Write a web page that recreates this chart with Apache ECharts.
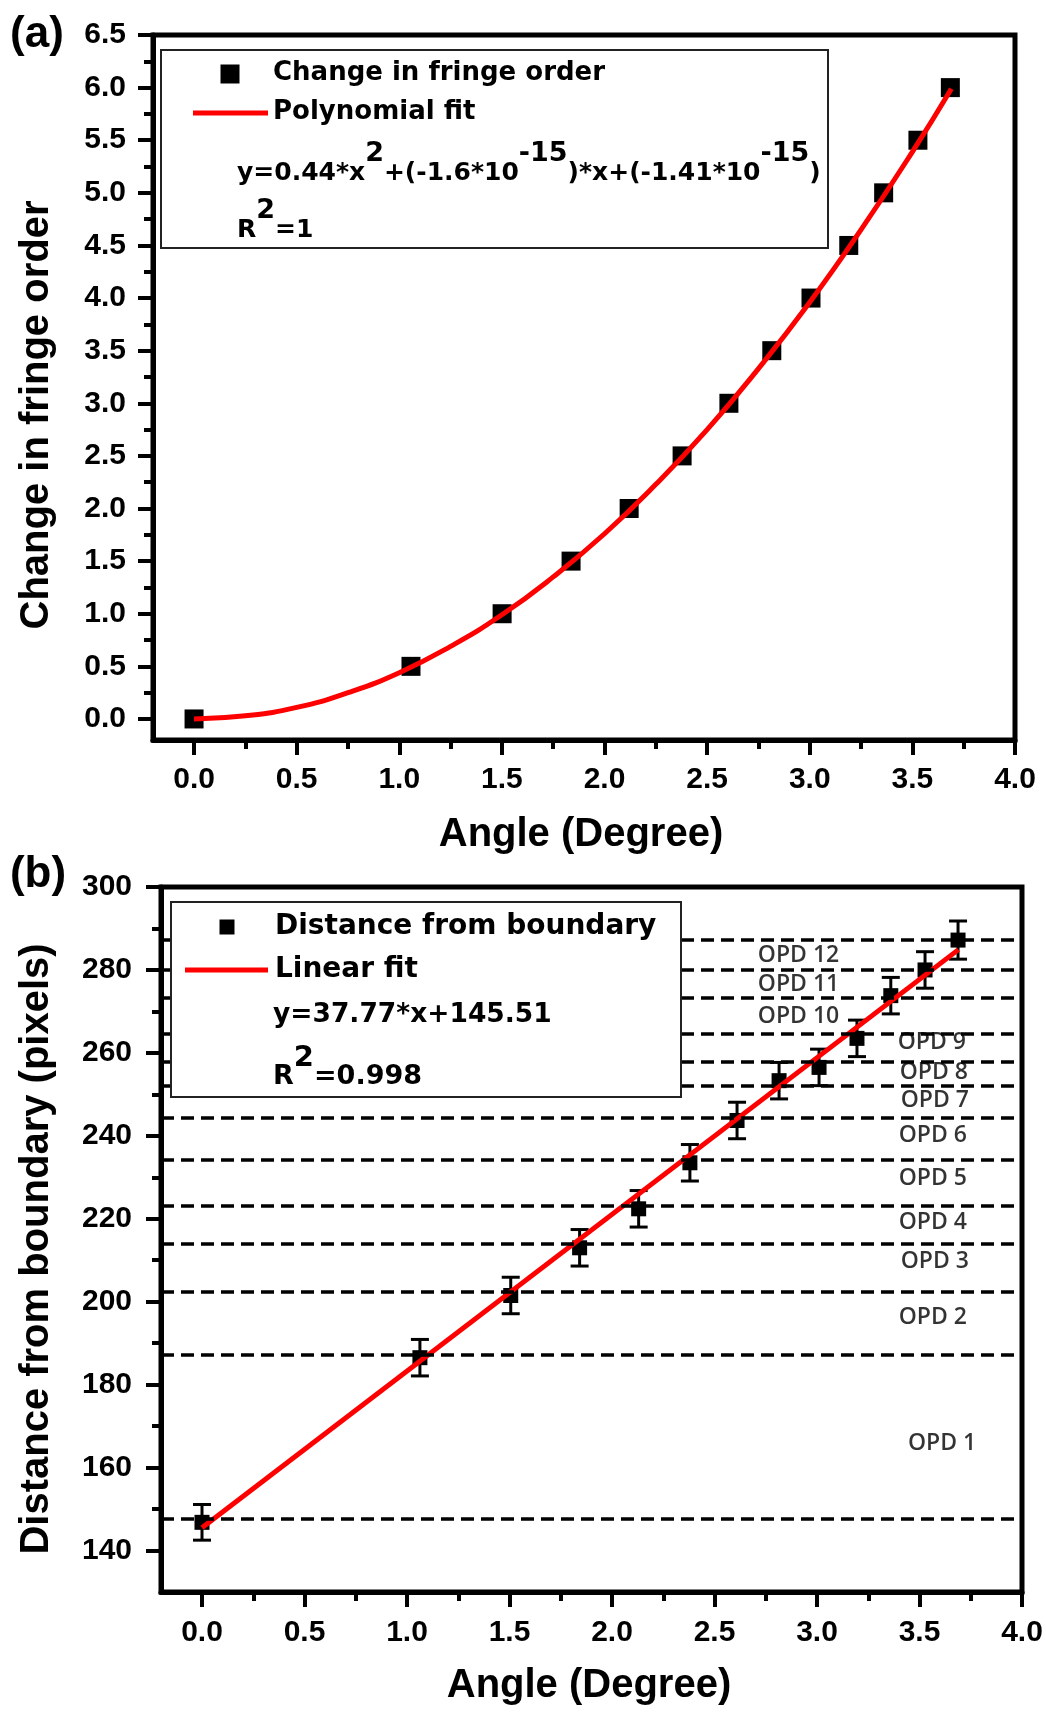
<!DOCTYPE html>
<html>
<head>
<meta charset="utf-8">
<script src="https://cdn.jsdelivr.net/npm/echarts@6/dist/echarts.min.js"></script>
<style>
  html, body { margin: 0; padding: 0; background: #fff; }
  #chart { width: 1046px; height: 1713px; }
</style>
</head>
<body>
<div id="chart"></div>
<script>
// (a) change in fringe order vs angle
const angleA = [0, 1.057, 1.501, 1.837, 2.12, 2.378, 2.606, 2.815, 3.006, 3.19, 3.36, 3.527, 3.685];
const fringeOrder = [0, 0.5, 1.0, 1.5, 2.0, 2.5, 3.0, 3.5, 4.0, 4.5, 5.0, 5.5, 6.0];
// polynomial fit curve
const polyFitX = [0, 0.25, 0.5, 0.75, 1.0, 1.25, 1.5, 1.75, 2.0, 2.25, 2.5, 2.75, 3.0, 3.25, 3.5, 3.69];
const polyFitY = [0, 0.03, 0.11, 0.25, 0.44, 0.69, 0.99, 1.35, 1.76, 2.23, 2.75, 3.33, 3.96, 4.65, 5.39, 5.99];

// (b) distance from boundary vs angle
const angleB = [0, 1.063, 1.506, 1.842, 2.13, 2.38, 2.61, 2.815, 3.01, 3.195, 3.36, 3.527, 3.688];
const distance = [146.8, 186.5, 201.5, 213.0, 222.4, 233.5, 243.7, 253.3, 256.5, 263.5, 273.8, 280.0, 287.2];
const distErr = [4.3, 4.4, 4.4, 4.4, 4.4, 4.4, 4.4, 4.4, 4.4, 4.4, 4.4, 4.4, 4.6];
const linFitX = [0, 3.69];
const linFitY = [145.5, 284.9];

// OPD boundaries (dashed) and their labels
const opdLevels = [287.2, 280.0, 273.2, 264.7, 257.9, 252.1, 244.3, 234.3, 223.2, 214.0, 202.5, 187.1, 147.6];
const opdNames = ['OPD 12', 'OPD 11', 'OPD 10', 'OPD 9', 'OPD 8', 'OPD 7', 'OPD 6', 'OPD 5', 'OPD 4', 'OPD 3', 'OPD 2', 'OPD 1'];
const opdLabelX = [2.91, 2.91, 2.91, 3.56, 3.57, 3.575, 3.565, 3.565, 3.565, 3.575, 3.565, 3.61];
const opdLabelY = [283.6, 276.6, 268.9, 262.4, 255.4, 248.6, 240.2, 229.8, 219.1, 209.6, 196.1, 165.9];

// ticks
const xTicks = [0, 0.5, 1.0, 1.5, 2.0, 2.5, 3.0, 3.5, 4.0];
const xMinor = [0.25, 0.75, 1.25, 1.75, 2.25, 2.75, 3.25, 3.75];
const yTicksA = [0, 0.5, 1.0, 1.5, 2.0, 2.5, 3.0, 3.5, 4.0, 4.5, 5.0, 5.5, 6.0, 6.5];
const yMinorA = [0.25, 0.75, 1.25, 1.75, 2.25, 2.75, 3.25, 3.75, 4.25, 4.75, 5.25, 5.75, 6.25];
const yTicksB = [140, 160, 180, 200, 220, 240, 260, 280, 300];
const yMinorB = [150, 170, 190, 210, 230, 250, 270, 290];

const zip = (a, b) => a.map((v, i) => [v, b[i]]);

const tickFont = { color: '#000', fontFamily: 'Liberation Sans', fontWeight: 'bold', fontSize: 30 };
const tickLine = { color: '#000', width: 4 };

function axisPair(kind, gridIndex, min, max, major, minor, margin, fmt) {
  const base = {
    type: 'value', gridIndex, min, max,
    position: kind === 'x' ? 'bottom' : 'left',
    offset: 0,
    splitLine: { show: false }
  };
  return [
    {
      ...base,
      axisLine: { show: true, onZero: false, lineStyle: { color: '#000', width: 5 } },
      axisTick: { show: true, inside: false, length: 15, customValues: major, lineStyle: tickLine },
      axisLabel: { show: true, customValues: major, margin, formatter: fmt, ...tickFont }
    },
    {
      ...base,
      axisLine: { show: false, onZero: false },
      axisTick: { show: true, inside: false, length: 9, customValues: minor, lineStyle: tickLine },
      axisLabel: { show: false }
    }
  ];
}

const f1 = (v) => v.toFixed(1);
const f0 = (v) => String(Math.round(v));

// text runs with superscripts, laid out by measuring
const mctx = document.createElement('canvas').getContext('2d');
function textRun(parts, x, yMid, supMid, size, supSize) {
  const out = [];
  let cx = x;
  for (const p of parts) {
    const fs = p.sup ? supSize : size;
    const font = `bold ${fs}px "DejaVu Sans"`;
    mctx.font = font;
    out.push(txt(p.t, cx, p.sup ? supMid : yMid, font, 'left'));
    cx += mctx.measureText(p.t).width;
  }
  return out;
}
function txt(text, x, y, font, align, rotation) {
  return {
    type: 'text', x, y, z: 60, rotation: rotation || 0,
    style: {
      text, font, fill: '#000',
      align: align || 'center', textAlign: align || 'center',
      verticalAlign: 'middle', textVerticalAlign: 'middle'
    }
  };
}
function box(x, y, w, h) {
  return { type: 'rect', z: 50, shape: { x, y, width: w, height: h }, style: { fill: '#fff', stroke: '#222', lineWidth: 2 } };
}
function square(cx, cy, s) {
  return { type: 'rect', z: 60, shape: { x: cx - s / 2, y: cy - s / 2, width: s, height: s }, style: { fill: '#000' } };
}
function redLine(x1, x2, y) {
  return { type: 'line', z: 60, shape: { x1, y1: y, x2, y2: y }, style: { stroke: '#ff0000', lineWidth: 5 } };
}

const titleFont = 'bold 40px "Liberation Sans"';
const legA = 'bold 26px "DejaVu Sans"';
const legB = 'bold 28px "DejaVu Sans"';

const graphics = [
  txt('(a)', 37, 35, 'bold 44px "Liberation Sans"'),
  txt('(b)', 38, 875, 'bold 44px "Liberation Sans"'),
  txt('Change in fringe order', 37, 415, titleFont, 'center', Math.PI / 2),
  txt('Distance from boundary (pixels)', 37, 1249, titleFont, 'center', Math.PI / 2),
  txt('Angle (Degree)', 581, 835, titleFont),
  txt('Angle (Degree)', 589, 1686, titleFont),

  box(161, 50, 667, 198),
  square(230, 74, 19),
  txt('Change in fringe order', 273, 73, legA, 'left'),
  redLine(193, 268, 113),
  txt('Polynomial fit', 273, 112, legA, 'left'),
  ...textRun([
    { t: 'y=0.44*x' }, { t: '2', sup: true }, { t: '+(-1.6*10' }, { t: '-15', sup: true },
    { t: ')*x+(-1.41*10' }, { t: '-15', sup: true }, { t: ')' }
  ], 237, 173, 154, 25, 27),
  ...textRun([{ t: 'R' }, { t: '2', sup: true }, { t: '=1' }], 237, 230, 211, 25, 27),

  box(171, 902, 510, 195),
  square(227, 927, 15),
  txt('Distance from boundary', 275, 927, legB, 'left'),
  redLine(185, 268, 970),
  txt('Linear fit', 275, 970, legB, 'left'),
  ...textRun([{ t: 'y=37.77*x+145.51' }], 273, 1015, 1015, 26.5, 26.5),
  ...textRun([{ t: 'R' }, { t: '2', sup: true }, { t: '=0.998' }], 273, 1077, 1058, 27, 29)
];

const [xa0, xa1] = axisPair('x', 0, -0.2, 4.0, xTicks, xMinor, 25, f1);
const [ya0, ya1] = axisPair('y', 0, -0.2, 6.5, yTicksA, yMinorA, 27, f1);
const [xb0, xb1] = axisPair('x', 1, -0.2, 4.0, xTicks, xMinor, 26, f1);
const [yb0, yb1] = axisPair('y', 1, 130, 300, yTicksB, yMinorB, 29, f0);

const chart = echarts.init(document.getElementById('chart'), null, { renderer: 'canvas' });
chart.setOption({
  animation: false,
  backgroundColor: '#fff',
  grid: [
    { left: 153, top: 35, width: 862, height: 705, show: true, borderColor: '#000', borderWidth: 5, backgroundColor: 'transparent' },
    { left: 161, top: 887, width: 861, height: 705, show: true, borderColor: '#000', borderWidth: 5, backgroundColor: 'transparent' }
  ],
  xAxis: [xa0, xa1, xb0, xb1],
  yAxis: [ya0, ya1, yb0, yb1],
  series: [
    {
      type: 'scatter', xAxisIndex: 0, yAxisIndex: 0, z: 3,
      symbol: 'rect', symbolSize: 19, itemStyle: { color: '#000', opacity: 1 },
      data: zip(angleA, fringeOrder)
    },
    {
      type: 'line', xAxisIndex: 0, yAxisIndex: 0, z: 4,
      smooth: true, showSymbol: false, symbol: 'none',
      lineStyle: { color: '#ff0000', width: 5 },
      data: zip(polyFitX, polyFitY)
    },
    {
      // OPD labels, carrying the dashed boundaries
      type: 'scatter', xAxisIndex: 2, yAxisIndex: 2, z: 1, silent: true,
      symbolSize: 1, itemStyle: { color: 'transparent' },
      label: {
        show: true, position: 'inside', formatter: '{b}',
        fontFamily: 'Open Sans', fontWeight: 600, fontSize: 23, color: '#000'
      },
      data: opdNames.map((n, i) => ({ name: n, value: [opdLabelX[i], opdLabelY[i]] })),
      markLine: {
        silent: true, symbol: ['none', 'none'], label: { show: false },
        lineStyle: { color: '#000', type: [13, 7], width: 3.5, opacity: 1 },
        data: opdLevels.map((v) => ({ yAxis: v }))
      }
    },
    {
      type: 'custom', xAxisIndex: 2, yAxisIndex: 2, z: 2,
      encode: { x: 0, y: 1 },
      data: angleB.map((x, i) => [x, distance[i], distErr[i]]),
      renderItem: (params, api) => {
        const x = api.value(0), y = api.value(1), e = api.value(2);
        const top = api.coord([x, y + e]);
        const bot = api.coord([x, y - e]);
        const hw = 9;
        const st = { stroke: '#000', lineWidth: 3 };
        return {
          type: 'group',
          children: [
            { type: 'line', shape: { x1: top[0], y1: top[1], x2: bot[0], y2: bot[1] }, style: st },
            { type: 'line', shape: { x1: top[0] - hw, y1: top[1], x2: top[0] + hw, y2: top[1] }, style: st },
            { type: 'line', shape: { x1: bot[0] - hw, y1: bot[1], x2: bot[0] + hw, y2: bot[1] }, style: st }
          ]
        };
      }
    },
    {
      type: 'scatter', xAxisIndex: 2, yAxisIndex: 2, z: 3,
      symbol: 'rect', symbolSize: 15, itemStyle: { color: '#000', opacity: 1 },
      data: zip(angleB, distance)
    },
    {
      type: 'line', xAxisIndex: 2, yAxisIndex: 2, z: 4,
      showSymbol: false, symbol: 'none',
      lineStyle: { color: '#ff0000', width: 5 },
      data: zip(linFitX, linFitY)
    }
  ],
  graphic: graphics
});
</script>
</body>
</html>
